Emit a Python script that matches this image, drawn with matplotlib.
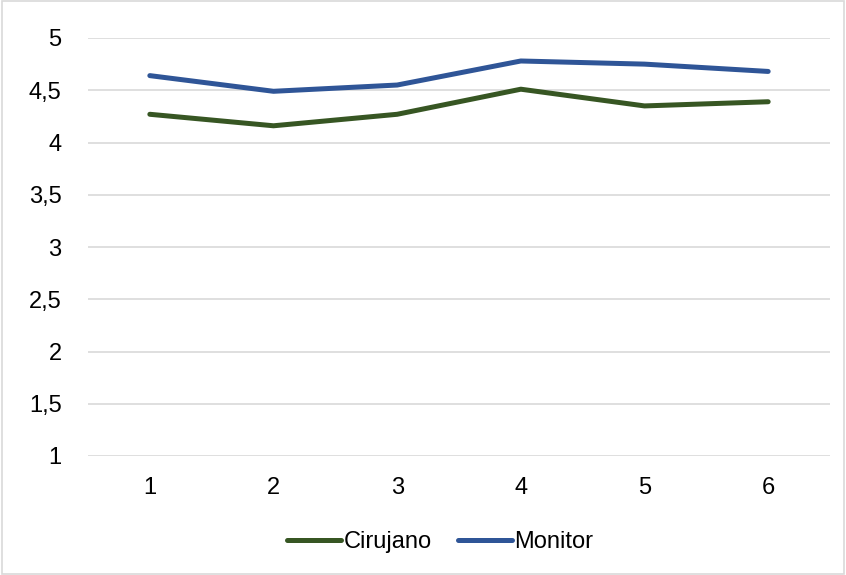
import matplotlib.pyplot as plt
from matplotlib.patches import Rectangle

plt.rcParams['font.family'] = ['Liberation Sans Narrow', 'Liberation Sans', 'DejaVu Sans']

# mean scores per session
sessions = [1, 2, 3, 4, 5, 6]
cirujano = [4.27, 4.16, 4.27, 4.51, 4.35, 4.39]
monitor = [4.64, 4.49, 4.55, 4.78, 4.75, 4.68]
y_ticks = [1, 1.5, 2, 2.5, 3, 3.5, 4, 4.5, 5]
y_labels = ['1', '1,5', '2', '2,5', '3', '3,5', '4', '4,5', '5']

fig = plt.figure(figsize=(8.46, 5.75), dpi=100)
ax = fig.add_axes([88/846, 1-456/575, (830-88)/846, (456-38)/575])

ax.plot(sessions, cirujano, color='#375623', lw=3.6, solid_capstyle='round', label='Cirujano', zorder=3)
ax.plot(sessions, monitor, color='#2f5597', lw=3.6, solid_capstyle='round', label='Monitor', zorder=3)

ax.set_xlim(0.5, 6.5)
ax.set_ylim(1, 5)
ax.set_xticks(sessions)
ax.set_yticks(y_ticks)
ax.set_yticklabels(y_labels)
ax.tick_params(length=0, labelsize=17, colors='#000000')
ax.tick_params(axis='x', pad=15)
ax.tick_params(axis='y', pad=19)
ax.grid(axis='y', color='#d9d9d9', lw=1.2)
ax.set_axisbelow(True)
for s in ax.spines.values():
    s.set_visible(False)

leg = fig.legend(loc='center', bbox_to_anchor=(440/846, 1-542/575), ncol=2, frameon=False,
                 fontsize=17, handlelength=2.3, handletextpad=0.1, columnspacing=1.1)

# outer chart border
fig.patches.append(Rectangle((0.002, 0.002), 0.996, 0.996, transform=fig.transFigure,
                             fill=False, edgecolor='#d9d9d9', lw=1.2))

fig.savefig('out.png', dpi=100)
